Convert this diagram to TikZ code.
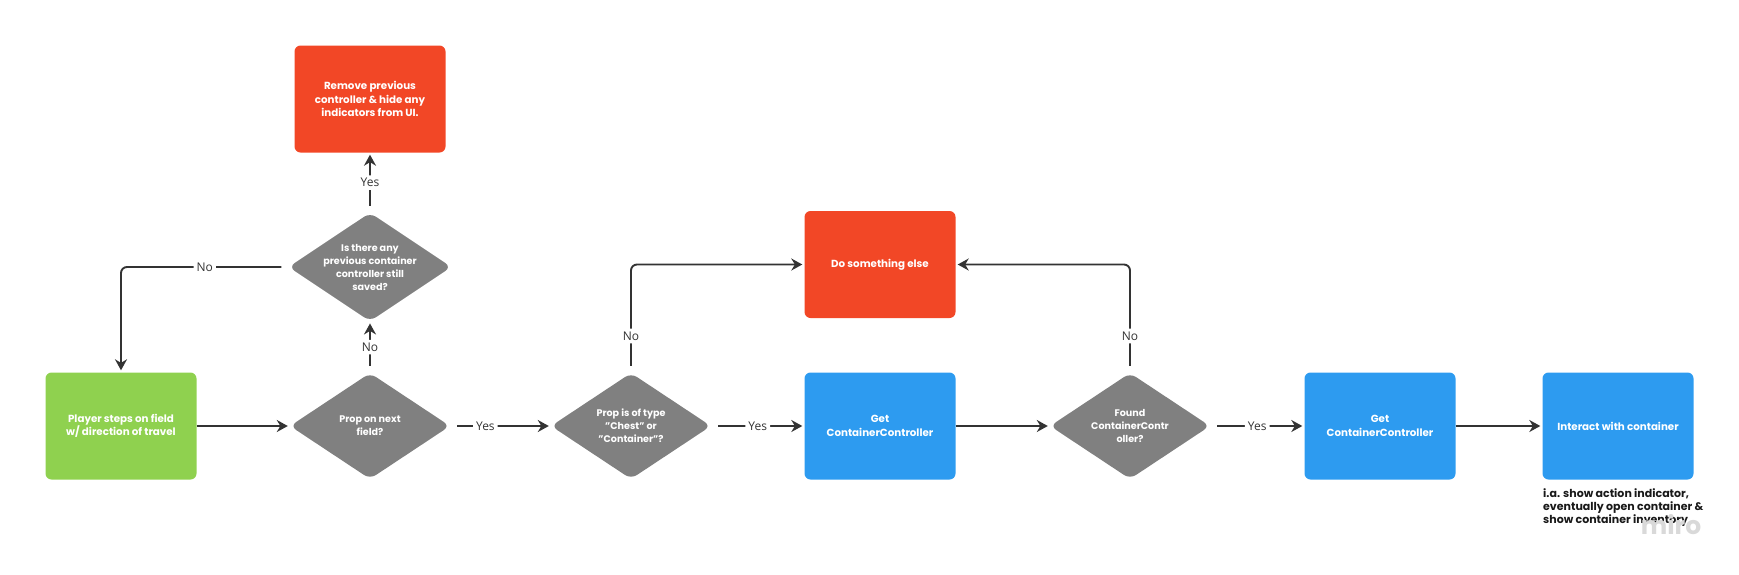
\documentclass[tikz,border=0pt]{standalone}
\usepackage{fontspec}
\setmainfont{Poppins}
\newfontfamily\labelfont{Open Sans}
\usetikzlibrary{shapes.geometric,arrows.meta}
\definecolor{flowRed}{HTML}{F24726}
\definecolor{flowGreen}{HTML}{8FD14F}
\definecolor{flowBlue}{HTML}{2D9BF0}
\definecolor{flowGray}{HTML}{808080}
\definecolor{flowLine}{HTML}{333333}
\begin{document}
\begin{tikzpicture}[x=1pt,y=-1pt]
\tikzset{
    flowBox/.style={rectangle,rounded corners=6pt,minimum width=151pt,minimum height=107pt,align=center,text=white,font=\bfseries\fontsize{10.3}{13.5}\selectfont},
    flowDia/.style={diamond,aspect=1.5,rounded corners=7pt,fill=flowGray,minimum width=160pt,minimum height=106pt,inner sep=0pt,align=center,text=white,font=\bfseries\fontsize{9.6}{13}\selectfont},
    flowArrow/.style={draw=flowLine,line width=1.9pt,-{Stealth[length=11pt,width=12pt]},rounded corners=6pt,shorten >=2pt},
    fromDia/.style={shorten <=7pt},
    flowLabel/.style={fill=white,text=flowLine,font=\labelfont\fontsize{12}{13}\selectfont,inner sep=3pt},
}
\useasboundingbox (0,0) rectangle (1739,574);

% boxes
\node[flowBox,fill=flowGreen] (player) at (121,426) {Player steps on field\\w/ direction of travel};
\node[flowBox,fill=flowRed] (removeCtrl) at (370,99) {Remove previous\\controller \& hide any\\indicators from UI.};
\node[flowBox,fill=flowRed] (doElse) at (880,264.5) {Do something else};
\node[flowBox,fill=flowBlue] (getCtrlA) at (880,426) {Get\\ContainerController};
\node[flowBox,fill=flowBlue] (getCtrlB) at (1380,426) {Get\\ContainerController};
\node[flowBox,fill=flowBlue] (interact) at (1618,426) {Interact with container};

% decisions
\node[flowDia] (propNext) at (370,426) {Prop on next\\field?};
\node[flowDia] (anyPrev) at (370,267) {Is there any\\previous container\\controller still\\saved?};
\node[flowDia] (propType) at (631,426) {Prop is of type\\"Chest" or\\"Container"?};
\node[flowDia] (foundCtrl) at (1130,426) {Found\\ContainerContr\\oller?};

% notes
\node[anchor=north west,align=left,inner sep=0pt,text=black!90,font=\bfseries\fontsize{11}{13.3}\selectfont] (note) at (1543,488) {i.a. show action indicator,\\eventually open container \&\\show container inventory};
\node[text=black!15,font=\bfseries\fontsize{25}{25}\selectfont,inner sep=0pt] (miro) at (1671,525) {miro};

% connectors
\draw[flowArrow] (player) -- (propNext);
\draw[flowArrow,fromDia] (propNext) -- node[flowLabel,pos=0.35]{Yes} (propType);
\draw[flowArrow,fromDia] (propType) -- node[flowLabel]{Yes} (getCtrlA);
\draw[flowArrow] (getCtrlA) -- (foundCtrl);
\draw[flowArrow,fromDia] (foundCtrl) -- node[flowLabel]{Yes} (getCtrlB);
\draw[flowArrow] (getCtrlB) -- (interact);
\draw[flowArrow,fromDia] (propNext) -- node[flowLabel]{No} (anyPrev);
\draw[flowArrow,fromDia] (anyPrev) -- node[flowLabel]{Yes} (removeCtrl);
\draw[flowArrow,fromDia] (anyPrev.west) -| node[flowLabel,pos=0.25]{No} (player.north);
\draw[flowArrow,fromDia] (propType.north) |- node[flowLabel,pos=0.17]{No} (doElse.west);
\draw[flowArrow,fromDia] (foundCtrl.north) |- node[flowLabel,pos=0.17]{No} (doElse.east);
\end{tikzpicture}
\end{document}
